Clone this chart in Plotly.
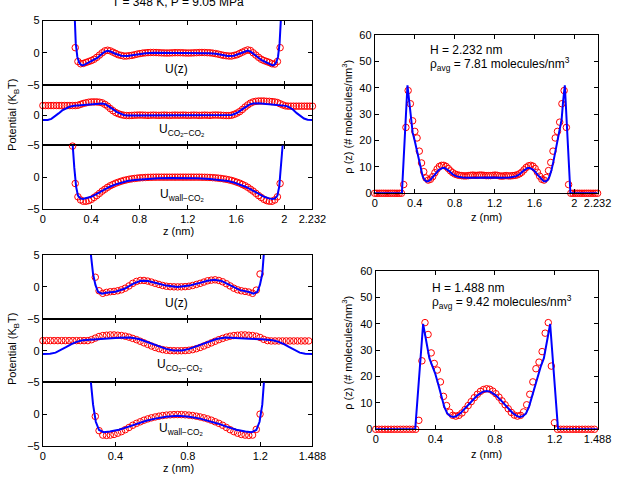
import plotly.graph_objects as go

FONT = "Liberation Sans, Arial, sans-serif"
W, H = 632, 486

# ---------------- data: H = 2.232 nm (top row) ----------------
H_TOP = 2.232
DZ_TOP = 0.02232   # spacing of the simulation (circle) points

U_TOP_MK = [None]*12 + [
    0.8, -1.35, -1.7, -1.65, -1.5, -1.35, -1.2, -1.0, -0.7, -0.35, 0.0, 0.3, 0.4, 0.3, 0.1,
    -0.1, -0.3, -0.4, -0.5, -0.5, -0.45, -0.4, -0.3, -0.2, -0.12, -0.05, 0.0, 0.03, 0.05,
    0.05, 0.04, 0.02, 0.0, -0.02, -0.03, -0.02, 0.0, 0.02, 0.02, 0.02, 0.0, -0.02, -0.03,
    -0.02, 0.0, 0.02, 0.04, 0.05, 0.04, 0.02, 0.0, -0.05, -0.12, -0.2, -0.3, -0.4, -0.45,
    -0.5, -0.5, -0.4, -0.3, -0.1, 0.1, 0.3, 0.45, 0.35, 0.0, -0.35, -0.7, -1.0, -1.2,
    -1.35, -1.5, -1.7, -1.75, -1.35, 0.8] + [None]*12

CC_TOP_MK = [1.6]*13 + [
    1.65, 1.8, 1.95, 2.05, 2.15, 2.2, 2.2, 2.2, 2.15, 2.05, 1.8, 1.5, 1.1, 0.75, 0.45, 0.25,
    0.1, 0.0, -0.05, -0.05, -0.03, 0.0, 0.02, 0.03, 0.02, 0.0,
    -0.02, 0.0, 0.02, 0.0, -0.02, 0.0, 0.02, 0.0, -0.02, 0.0, 0.02, 0.0, 0.0, 0.02, 0.0,
    -0.02, 0.0, 0.02, 0.0, -0.02, 0.0, 0.02, 0.0, -0.02,
    0.02, 0.03, 0.02, 0.0, -0.03, -0.05, -0.05, 0.0, 0.15, 0.35, 0.6, 0.95, 1.35, 1.7, 2.0,
    2.2, 2.3, 2.35, 2.35, 2.35, 2.3, 2.3, 2.25, 2.2, 2.1, 1.9, 1.7, 1.55] + [1.5]*10

WL_TOP_MK = [None]*11 + [
    4.9, -1.0, -3.1, -3.6, -3.8, -3.8, -3.7, -3.5, -3.2, -2.9, -2.55, -2.2, -1.9, -1.6,
    -1.35, -1.15, -0.95, -0.8, -0.65, -0.52, -0.42, -0.33, -0.26, -0.2, -0.15, -0.11,
    -0.08, -0.05, -0.03, -0.02, -0.01] + [0.0]*17 + [
    -0.01, -0.02, -0.03, -0.05, -0.08, -0.11, -0.15, -0.2, -0.26, -0.33, -0.42, -0.52,
    -0.65, -0.8, -0.95, -1.15, -1.35, -1.6, -1.9, -2.2, -2.55, -2.9, -3.2, -3.5, -3.7,
    -3.8, -3.8, -3.6, -3.1, -1.0] + [None]*12

RHO_TOP_MK = [0]*13 + [
    3.3, 25, 39, 34, 27.5, 23.5, 21, 16, 11.5, 8.2, 5.8, 5.0, 5.3, 6.3, 7.8, 9.2, 10.2,
    10.6, 10.6, 10.2, 9.4, 8.5, 7.8, 7.3, 7.0, 6.8, 6.7, 6.6, 6.6, 6.7, 6.8, 6.9, 6.8, 6.8,
    6.9, 6.9, 6.8, 6.7, 6.7, 6.7, 6.8, 6.9, 6.8, 6.6, 6.5, 6.6, 6.7, 6.6, 6.6, 6.7, 6.8,
    7.0, 7.4, 8.0, 8.9, 9.8, 10.4, 10.6, 10.3, 9.4, 8.0, 6.5, 5.3, 5.0, 6.0, 8.6, 11.7, 16,
    21, 23.5, 27, 34, 39, 25, 3.3] + [0]*13

U_TOP_LN_Z = [0.25, 0.262, 0.272, 0.285, 0.30, 0.315, 0.33, 0.35, 0.38, 0.42, 0.45, 0.48,
              0.51, 0.535, 0.56, 0.60, 0.65, 0.70, 0.75, 0.80, 0.85, 0.92, 1.0, 1.116,
              1.232, 1.312, 1.382, 1.432, 1.482, 1.532, 1.582, 1.632, 1.672, 1.697, 1.722,
              1.752, 1.782, 1.812, 1.852, 1.882, 1.902, 1.917, 1.932, 1.947, 1.96, 1.97, 1.982]
U_TOP_LN = [12, 5, 1.5, -0.6, -1.5, -1.85, -1.95, -1.8, -1.5, -1.15, -0.8, -0.3, 0.15, 0.3,
            0.2, -0.15, -0.45, -0.5, -0.35, -0.15, -0.05, 0.0, 0.0, 0.0,
            0.0, 0.0, -0.05, -0.15, -0.35, -0.5, -0.45, -0.15, 0.2, 0.35, 0.15, -0.3, -0.8,
            -1.15, -1.5, -1.8, -1.95, -1.85, -1.5, -0.6, 1.5, 5, 12]

CC_TOP_LN_Z = [0, 0.04, 0.07, 0.10, 0.13, 0.16, 0.19, 0.22, 0.26, 0.30, 0.35, 0.40, 0.45,
               0.49, 0.52, 0.55, 0.58, 0.61, 0.64, 0.67, 0.70, 0.75, 0.85, 1.0, 1.116,
               1.232, 1.382, 1.482, 1.532, 1.562, 1.592, 1.622, 1.652, 1.682, 1.712, 1.742,
               1.79, 1.85, 1.932, 1.972, 2.012, 2.042, 2.072, 2.102, 2.132, 2.162, 2.192, 2.232]
CC_TOP_LN = [-0.8, -0.78, -0.6, -0.2, 0.3, 0.8, 1.15, 1.4, 1.55, 1.6, 1.7, 1.8, 1.9, 1.95,
             1.8, 1.45, 1.0, 0.55, 0.25, 0.05, -0.05, -0.05, 0.0, 0.0, 0.0,
             0.0, 0.0, -0.05, -0.05, 0.05, 0.25, 0.55, 1.0, 1.45, 1.8, 1.95, 2.0, 1.85, 1.75,
             1.7, 1.55, 1.3, 0.9, 0.35, -0.15, -0.55, -0.75, -0.8]

WL_TOP_LN_Z = [0.24, 0.247, 0.26, 0.275, 0.29, 0.31, 0.33, 0.36, 0.40, 0.45, 0.50, 0.55,
               0.60, 0.65, 0.70, 0.76, 0.85, 0.95, 1.05, 1.116, 1.182, 1.282, 1.382, 1.472,
               1.532, 1.582, 1.632, 1.682, 1.732, 1.782, 1.832, 1.872, 1.902, 1.922, 1.942,
               1.957, 1.972, 1.985, 1.992]
WL_TOP_LN = [10, 5, 1.5, -1.5, -2.9, -3.35, -3.45, -3.35, -3.1, -2.6, -2.05, -1.55, -1.15,
             -0.85, -0.62, -0.45, -0.28, -0.18, -0.13, -0.12, -0.13, -0.18, -0.28, -0.45,
             -0.62, -0.85, -1.15, -1.55, -2.05, -2.6, -3.1, -3.35, -3.45, -3.35, -2.9, -1.5,
             1.5, 5, 10]

RHO_TOP_LN_Z = [0, 0.272, 0.328, 0.345, 0.36, 0.38, 0.40, 0.42, 0.44, 0.46, 0.48, 0.50,
                0.52, 0.54, 0.56, 0.60, 0.64, 0.68, 0.70, 0.74, 0.78, 0.82, 0.88, 0.95, 1.05,
                1.116, 1.182, 1.282, 1.352, 1.412, 1.452, 1.492, 1.532, 1.552, 1.592, 1.632,
                1.672, 1.692, 1.712, 1.732, 1.752, 1.772, 1.792, 1.812, 1.832, 1.852, 1.872,
                1.887, 1.904, 1.96, 2.232]
RHO_TOP_LN = [0, 0, 41, 35, 28, 23, 20, 16.5, 12.5, 9, 6.5, 5, 4.5, 4.6, 5.2, 7, 8.8, 9.6,
              9.6, 8.6, 7.2, 6.4, 6.0, 5.9, 6.0, 6.1, 6.0, 5.9, 6.0, 6.4, 7.2, 8.6, 9.6, 9.6,
              8.8, 7, 5.2, 4.6, 4.5, 5, 6.5, 9, 12.5, 16.5, 20, 23, 28, 35, 41, 0, 0]

# ---------------- data: H = 1.488 nm (bottom row) ----------------
H_BOT = 1.488
DZ_BOT = 0.020667

U_BOT_MK = [None]*14 + [
    1.5, -0.6, -1.0, -0.85, -0.75, -0.7, -0.6, -0.45, -0.2, 0.15, 0.55, 0.85, 1.0, 1.0, 0.9,
    0.75, 0.55, 0.38, 0.22, 0.1, 0.04, 0.01, 0.0, 0.01, 0.04, 0.1, 0.22, 0.38, 0.55, 0.75,
    0.95, 1.05, 1.1, 1.0, 0.8, 0.5, 0.15, -0.2, -0.45, -0.6, -0.7, -0.8, -1.0, -0.5, 2.0] + [None]*14

CC_BOT_MK = [1.6]*13 + [
    1.75, 2.0, 2.25, 2.4, 2.45, 2.5, 2.5, 2.45, 2.4, 2.3, 2.15, 1.95, 1.75, 1.5, 1.25, 1.0,
    0.75, 0.52, 0.33, 0.18, 0.08, 0.03, 0.01, 0.0, 0.01, 0.03, 0.08, 0.18, 0.33, 0.52, 0.75,
    1.0, 1.25, 1.5, 1.75, 1.95, 2.15, 2.3, 2.4, 2.45, 2.5, 2.5, 2.45, 2.4, 2.3, 2.1, 1.8,
    1.6] + [1.55]*12

WL_BOT_MK = [None]*14 + [
    -0.35, -2.6, -3.3, -3.35, -3.3, -3.2, -3.0, -2.75, -2.45, -2.1, -1.75, -1.45, -1.2,
    -0.95, -0.75, -0.58, -0.44, -0.32, -0.22, -0.15, -0.1, -0.07, -0.06, -0.07, -0.1, -0.15,
    -0.22, -0.32, -0.44, -0.58, -0.75, -0.95, -1.2, -1.45, -1.75, -2.1, -2.45, -2.75, -3.0,
    -3.2, -3.3, -3.35, -3.3, -2.4, 0.0] + [None]*14

RHO_BOT_MK = [0]*14 + [
    3.4, 26, 40.5, 36, 29, 25, 22.5, 18, 12.5, 9.0, 6.5, 5.3, 5.0, 5.3, 6.2, 7.5, 9.0, 10.5,
    12.0, 13.3, 14.4, 15.1, 15.4, 15.2, 14.5, 13.5, 12.2, 10.8, 9.3, 7.8, 6.4, 5.4, 5.0, 5.3,
    6.6, 9.3, 13.3, 18, 23, 25.5, 29.5, 36.5, 40.5, 24, 2.5] + [0]*14

U_BOT_LN_Z = [0.255, 0.265, 0.277, 0.29, 0.305, 0.325, 0.35, 0.40, 0.45, 0.50, 0.54, 0.58,
              0.63, 0.68, 0.744, 0.808, 0.858, 0.908, 0.948, 0.988, 1.038, 1.088, 1.138,
              1.163, 1.183, 1.198, 1.211, 1.223, 1.233]
U_BOT_LN = [10, 5, 2.0, 0.3, -0.8, -1.05, -0.9, -0.75, -0.3, 0.5, 0.95, 0.9, 0.55, 0.2, 0.0,
            0.2, 0.55, 0.95, 1.1, 0.9, 0.2, -0.5, -0.8, -1.05, -0.8, 0.3, 2.0, 5, 10]

CC_BOT_LN_Z = [0, 0.04, 0.07, 0.10, 0.13, 0.16, 0.19, 0.22, 0.28, 0.35, 0.42, 0.48, 0.53,
               0.58, 0.63, 0.68, 0.72, 0.744, 0.768, 0.808, 0.858, 0.908, 0.958, 1.008, 1.068,
               1.138, 1.208, 1.268, 1.298, 1.328, 1.358, 1.388, 1.418, 1.448, 1.488]
CC_BOT_LN = [-0.5, -0.48, -0.3, 0.1, 0.6, 1.1, 1.45, 1.65, 1.8, 1.9, 2.05, 2.1, 1.85, 1.35,
             0.8, 0.3, 0.05, 0.0, 0.05, 0.3, 0.8, 1.35, 1.85, 2.1, 2.05, 1.9, 1.8, 1.65, 1.45,
             1.1, 0.6, 0.1, -0.3, -0.48, -0.5]

WL_BOT_LN_Z = [0.255, 0.265, 0.277, 0.292, 0.31, 0.335, 0.37, 0.42, 0.47, 0.52, 0.57, 0.62,
               0.68, 0.744, 0.808, 0.868, 0.918, 0.968, 1.018, 1.068, 1.118, 1.153, 1.178,
               1.196, 1.211, 1.223, 1.233]
WL_BOT_LN = [10, 5, 1.5, -1.2, -2.5, -2.85, -2.75, -2.45, -2.0, -1.5, -1.05, -0.7, -0.4,
             -0.25, -0.4, -0.7, -1.05, -1.5, -2.0, -2.45, -2.75, -2.85, -2.5, -1.2, 1.5, 5, 10]

RHO_BOT_LN_Z = [0, 0.265, 0.318, 0.34, 0.36, 0.38, 0.40, 0.42, 0.44, 0.46, 0.48, 0.50, 0.52,
                0.54, 0.57, 0.60, 0.64, 0.68, 0.72, 0.744, 0.768, 0.808, 0.848, 0.888, 0.918,
                0.948, 0.968, 0.988, 1.008, 1.028, 1.048, 1.068, 1.088, 1.108, 1.128, 1.148,
                1.17, 1.223, 1.488]
RHO_BOT_LN = [0, 0, 40, 33, 27, 24, 21, 17, 12.5, 8.5, 6, 5, 4.7, 5.0, 6.2, 8.0, 10.5, 12.8,
              14.3, 14.5, 14.3, 12.8, 10.5, 8.0, 6.2, 5.0, 4.7, 5, 6, 8.5, 12.5, 17, 21, 24,
              27, 33, 40, 0, 0]

X_TICKS_TOP = [0, 0.4, 0.8, 1.2, 1.6, 2, 2.232]
X_TEXT_TOP = ["0", "0.4", "0.8", "1.2", "1.6", "2", "2.232"]
X_TICKS_BOT = [0, 0.4, 0.8, 1.2, 1.488]
X_TEXT_BOT = ["0", "0.4", "0.8", "1.2", "1.488"]
RHO_TICKS = [0, 10, 20, 30, 40, 50, 60]

# ---------------- figure ----------------
fig = go.Figure()


def add_panel(n, dz, mk, ln_z, ln_y):
    xa = "x" if n == 1 else f"x{n}"
    ya = "y" if n == 1 else f"y{n}"
    fig.add_trace(go.Scatter(
        x0=0, dx=dz, y=mk, mode="markers", xaxis=xa, yaxis=ya,
        marker=dict(symbol="circle-open", size=6.5, color="#ff0000", line=dict(width=1)),
        cliponaxis=False, showlegend=False, hoverinfo="skip"))
    fig.add_trace(go.Scatter(
        x=ln_z, y=ln_y, mode="lines", xaxis=xa, yaxis=ya,
        line=dict(color="#0000ff", width=2), showlegend=False, hoverinfo="skip"))


add_panel(1, DZ_TOP, U_TOP_MK, U_TOP_LN_Z, U_TOP_LN)
add_panel(2, DZ_TOP, CC_TOP_MK, CC_TOP_LN_Z, CC_TOP_LN)
add_panel(3, DZ_TOP, WL_TOP_MK, WL_TOP_LN_Z, WL_TOP_LN)
add_panel(4, DZ_TOP, RHO_TOP_MK, RHO_TOP_LN_Z, RHO_TOP_LN)
add_panel(5, DZ_BOT, U_BOT_MK, U_BOT_LN_Z, U_BOT_LN)
add_panel(6, DZ_BOT, CC_BOT_MK, CC_BOT_LN_Z, CC_BOT_LN)
add_panel(7, DZ_BOT, WL_BOT_MK, WL_BOT_LN_Z, WL_BOT_LN)
add_panel(8, DZ_BOT, RHO_BOT_MK, RHO_BOT_LN_Z, RHO_BOT_LN)


def px_x(p):
    return p / W


def px_y(p):
    return 1 - p / H


base = dict(showline=True, linecolor="black", linewidth=1, mirror="allticks",
            ticks="inside", ticklen=4, tickwidth=1, tickcolor="black",
            showgrid=False, zeroline=False,
            tickfont=dict(family=FONT, size=11, color="black"))

LEFT_DOM = [px_x(41), px_x(318)]
RIGHT_DOM = [px_x(382), px_x(611)]


def xax(n, H_, ticks, text, show, dom):
    d = dict(base, domain=dom, range=[0, H_], tickvals=ticks, ticktext=text,
             showticklabels=show, anchor="y" if n == 1 else f"y{n}")
    return d


def yax(n, top, bot, vals, text):
    d = dict(base, domain=[px_y(bot), px_y(top)], tickvals=vals, ticktext=text,
             anchor="x" if n == 1 else f"x{n}")
    return d


POT_VALS = [-5, 0, 5]
layout = dict(
    width=W, height=H, margin=dict(l=0, r=0, t=0, b=0),
    paper_bgcolor="white", plot_bgcolor="white",
    xaxis=xax(1, H_TOP, X_TICKS_TOP, X_TEXT_TOP, False, LEFT_DOM),
    xaxis2=xax(2, H_TOP, X_TICKS_TOP, X_TEXT_TOP, False, LEFT_DOM),
    xaxis3=xax(3, H_TOP, X_TICKS_TOP, X_TEXT_TOP, True, LEFT_DOM),
    xaxis4=xax(4, H_TOP, X_TICKS_TOP, X_TEXT_TOP, True, RIGHT_DOM),
    xaxis5=xax(5, H_BOT, X_TICKS_BOT, X_TEXT_BOT, False, LEFT_DOM),
    xaxis6=xax(6, H_BOT, X_TICKS_BOT, X_TEXT_BOT, False, LEFT_DOM),
    xaxis7=xax(7, H_BOT, X_TICKS_BOT, X_TEXT_BOT, True, LEFT_DOM),
    xaxis8=xax(8, H_BOT, X_TICKS_BOT, X_TEXT_BOT, True, [px_x(383), px_x(611)]),
    yaxis=yax(1, 15, 81, POT_VALS, ["\u22125", "0", "5"]),
    yaxis2=yax(2, 81, 143, POT_VALS, ["\u22125", "0", ""]),
    yaxis3=yax(3, 143, 208, POT_VALS, ["\u22125", "0", ""]),
    yaxis4=yax(4, 30, 192, RHO_TICKS, [str(v) for v in RHO_TICKS]),
    yaxis5=yax(5, 255, 321, POT_VALS, ["\u22125", "0", "5"]),
    yaxis6=yax(6, 321, 386, POT_VALS, ["\u22125", "0", ""]),
    yaxis7=yax(7, 386, 451, POT_VALS, ["\u22125", "0", ""]),
    yaxis8=yax(8, 272, 434, RHO_TICKS, [str(v) for v in RHO_TICKS]),
)
for k in ["yaxis", "yaxis2", "yaxis3", "yaxis5", "yaxis6", "yaxis7"]:
    layout[k]["range"] = [-5, 5]
for k in ["yaxis4", "yaxis8"]:
    layout[k]["range"] = [0, 60]


def ann(text, x, y, xanchor="center", yanchor="middle", size=12, angle=0):
    return dict(text=text, x=px_x(x), y=px_y(y), xref="paper", yref="paper",
                showarrow=False, xanchor=xanchor, yanchor=yanchor, textangle=angle,
                font=dict(family=FONT, size=size, color="black"))


SUB_CC = "U<sub>CO<sub>2</sub>\u2212CO<sub>2</sub></sub>"
SUB_WL = "U<sub>wall\u2212CO<sub>2</sub></sub>"
RHO_TITLE = "\u03c1 (z) (# molecules/nm<sup>3</sup>)"
POT_TITLE = "Potential (K<sub>B</sub>T)"

annotations = [
    ann("T = 348 K, P = 9.05 MPa", 180, -4),
    ann("U(z)", 178, 65),
    ann(SUB_CC, 158, 127, xanchor="left"),
    ann(SUB_WL, 159, 194, xanchor="left"),
    ann("U(z)", 178, 305),
    ann(SUB_CC, 156, 368, xanchor="left"),
    ann(SUB_WL, 158, 434, xanchor="left"),
    ann("H = 2.232 nm", 437, 45, xanchor="left"),
    ann("\u03c1<sub>avg</sub> = 7.81 molecules/nm<sup>3</sup>", 437, 59, xanchor="left"),
    ann("H = 1.488 nm", 439, 289, xanchor="left"),
    ann("\u03c1<sub>avg</sub> = 9.42 molecules/nm<sup>3</sup>", 439, 303, xanchor="left"),
    ann("z (nm)", 180, 231, size=11),
    ann("z (nm)", 497, 216, size=11),
    ann("z (nm)", 180, 474, size=11),
    ann("z (nm)", 497, 459, size=11),
    ann(POT_TITLE, 11, 112, size=11, angle=-90),
    ann(POT_TITLE, 11, 352, size=11, angle=-90),
    ann(RHO_TITLE, 354, 113, size=11, angle=-90),
    ann(RHO_TITLE, 354, 355, size=11, angle=-90),
]
layout["annotations"] = annotations

fig.update_layout(**layout)
fig.write_html("out.html")
